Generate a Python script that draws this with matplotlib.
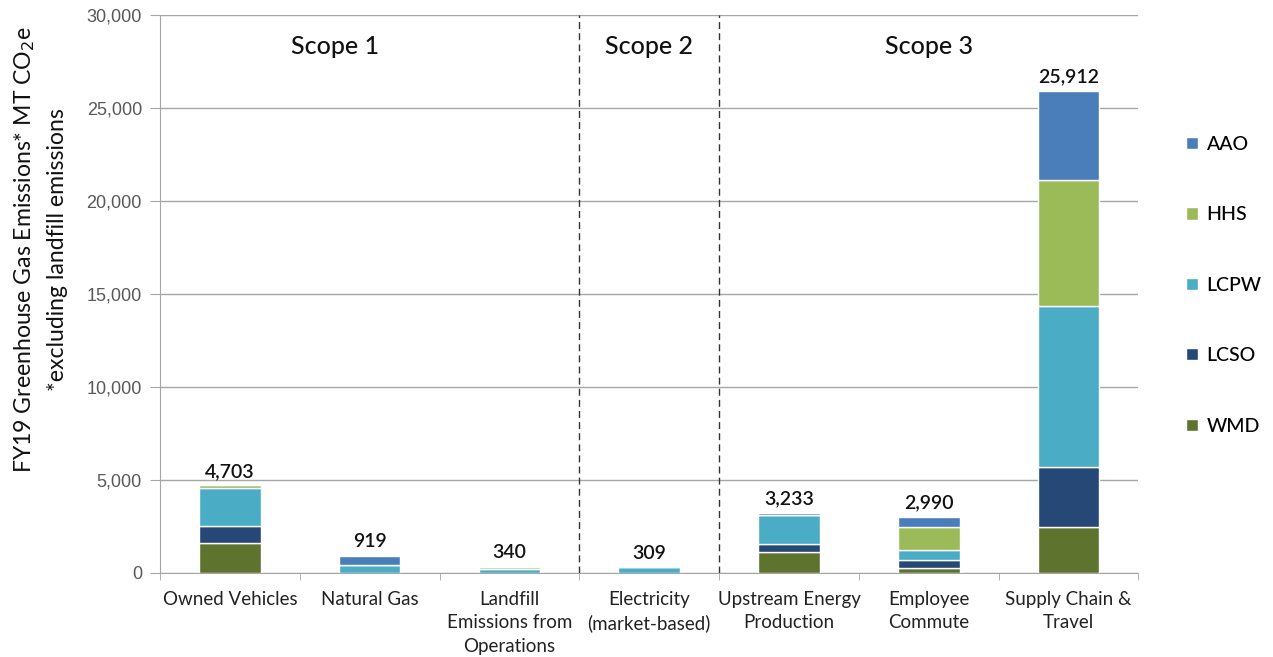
import numpy as np
import matplotlib
matplotlib.use("Agg")
import matplotlib.pyplot as plt

categories = ["Owned Vehicles", "Natural Gas", "Landfill\nEmissions from\nOperations",
              "Electricity\n(market-based)", "Upstream Energy\nProduction",
              "Employee\nCommute", "Supply Chain &\nTravel"]
totals = [4703, 919, 340, 309, 3233, 2990, 25912]

wmd = [1600, 0, 0, 0, 1130, 245, 2450]
lcso = [930, 0, 0, 0, 420, 465, 3230]
lcpw = [2050, 450, 200, 309, 1580, 530, 8660]
hhs = [123, 0, 140, 0, 0, 1220, 6780]
aao = [0, 469, 0, 0, 103, 530, 4792]

series = [("WMD", wmd, "#5e742e"), ("LCSO", lcso, "#264877"),
          ("LCPW", lcpw, "#4bacc6"), ("HHS", hhs, "#9bbb59"),
          ("AAO", aao, "#4a7ebb")]

scopes = ["Scope 1", "Scope 2", "Scope 3"]
scope_x = [0.75, 3.0, 5.0]
scope_dividers = [2.5, 3.5]

main_font = ["Lato", "DejaVu Sans"]
narrow_font = ["Liberation Sans Narrow", "Lato", "DejaVu Sans"]

fig = plt.figure(figsize=(12.73, 6.57), dpi=100)
ax = fig.add_axes([0.1257, 0.128, 0.7686, 0.849])

x = np.arange(len(categories))
bottom = np.zeros(len(categories))
handles = {}
for name, vals, color in series:
    vals = np.array(vals, dtype=float)
    b = ax.bar(x, vals, 0.44, bottom=bottom, color=color,
               edgecolor="white", linewidth=1, zorder=3, label=name)
    handles[name] = b
    bottom += vals

for xi, t in zip(x, totals):
    ax.annotate(f"{t:,}", (xi, t), xytext=(0, 4), textcoords="offset points",
                ha="center", va="bottom", fontsize=14, family=main_font,
                fontweight="semibold", color="#111111")

for d in scope_dividers:
    ax.axvline(d, color="#333333", linestyle=(0, (5, 3)), linewidth=1, zorder=2)

for s, sx in zip(scopes, scope_x):
    ax.text(sx, 28300, s, ha="center", va="center", fontsize=18,
            family=main_font, fontweight="medium", color="#111111")

ax.set_xlim(-0.5, len(categories) - 0.5)
ax.set_ylim(0, 30000)
ax.set_yticks(np.arange(0, 30001, 5000))
ax.set_yticklabels([f"{v:,}" for v in range(0, 30001, 5000)],
                   fontsize=13, color="#595959", family=["Liberation Sans", "DejaVu Sans"])
ax.yaxis.grid(True, color="#a6a6a6", linewidth=1, zorder=0)
ax.tick_params(axis="y", length=7, color="#a6a6a6", pad=6)

ax.set_xticks(x)
ax.set_xticklabels(categories, fontsize=13.5, color="#222222", family=narrow_font,
                   va="top", linespacing=1.45)
ax.tick_params(axis="x", which="major", length=0, pad=13)
ax.set_xticks(np.arange(-0.5, len(categories)), minor=True)
ax.tick_params(axis="x", which="minor", length=5, color="#a6a6a6")

for side in ["top", "right"]:
    ax.spines[side].set_visible(False)
for side in ["left", "bottom"]:
    ax.spines[side].set_color("#a6a6a6")

ax.set_ylabel("FY19 Greenhouse Gas Emissions* MT CO$_2$e\n*excluding landfill emissions",
              fontsize=16.6, family=main_font, color="#111111", linespacing=1.6)
ax.yaxis.set_label_coords(-0.094, 0.58)

order = ["AAO", "HHS", "LCPW", "LCSO", "WMD"]
fig.legend([handles[n] for n in order], order, loc="upper left",
           bbox_to_anchor=(0.918, 0.82), frameon=False,
           prop={"family": main_font, "size": 14, "weight": "medium"},
           handlelength=0.6, handleheight=0.6, handletextpad=0.45,
           labelspacing=2.75)

fig.savefig("out.png", dpi=100)
